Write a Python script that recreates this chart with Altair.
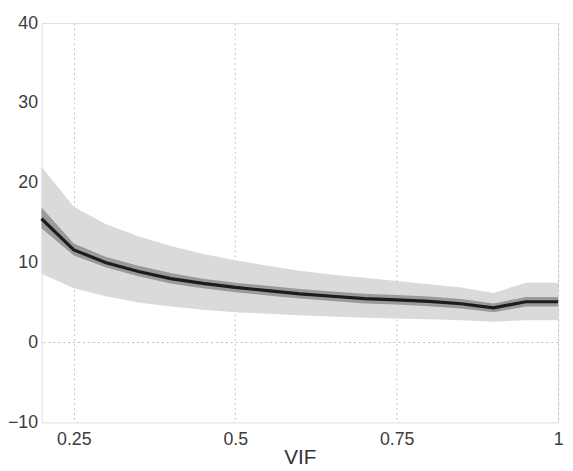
import altair as alt
import pandas as pd

vif = [0.2, 0.25, 0.3, 0.35, 0.4, 0.45, 0.5, 0.55, 0.6, 0.65, 0.7, 0.75, 0.8, 0.85, 0.9, 0.95, 1.0]
mean = [15.5, 11.6, 10.0, 8.9, 8.0, 7.4, 6.9, 6.5, 6.1, 5.8, 5.5, 5.35, 5.15, 4.85, 4.35, 5.1, 5.1]
inner_lo = [14.3, 10.9, 9.4, 8.3, 7.4, 6.8, 6.3, 5.9, 5.5, 5.2, 4.9, 4.75, 4.55, 4.25, 3.8, 4.5, 4.5]
inner_hi = [16.9, 12.4, 10.7, 9.6, 8.7, 8.0, 7.5, 7.1, 6.7, 6.4, 6.1, 5.95, 5.75, 5.45, 4.9, 5.7, 5.7]
outer_lo = [8.6, 6.8, 5.8, 5.0, 4.5, 4.1, 3.8, 3.6, 3.4, 3.25, 3.1, 3.0, 2.9, 2.8, 2.6, 2.8, 2.8]
outer_hi = [22.0, 17.0, 14.8, 13.3, 12.1, 11.1, 10.3, 9.6, 9.0, 8.5, 8.1, 7.7, 7.3, 6.9, 6.2, 7.5, 7.5]

df = pd.DataFrame({"vif": vif, "mean": mean, "ilo": inner_lo, "ihi": inner_hi,
                   "olo": outer_lo, "ohi": outer_hi})

xscale = alt.Scale(domain=[0.2, 1.0], nice=False, zero=False)
yscale = alt.Scale(domain=[-10, 40], nice=False, zero=False)

FONT = "Liberation Sans"

xaxis = alt.Axis(values=[0.25, 0.5, 0.75, 1.0], labelExpr="datum.value == 1 ? '1' : format(datum.value, '')",
                 title="VIF", grid=True, gridColor="#c4c4c4", gridDash=[2, 3], gridWidth=1,
                 labelFontSize=18, titleFontSize=21, titleFontWeight="normal", labelColor="#3c3c3c",
                 titleColor="#333", domain=False, ticks=False, labelPadding=8, titlePadding=-1,
                 labelFont=FONT, titleFont=FONT, labelFlush=False)
yaxis = alt.Axis(values=[-10, 0, 10, 20, 30, 40], title=None, grid=False,
                 labelFontSize=18, labelColor="#3c3c3c", domain=False, ticks=False,
                 labelPadding=4, labelFont=FONT, labelFlush=False)

base = alt.Chart(df)

outer = base.mark_area(color="#dadada", opacity=1).encode(
    x=alt.X("vif:Q", scale=xscale, axis=xaxis),
    y=alt.Y("olo:Q", scale=yscale, axis=yaxis),
    y2="ohi:Q",
)
inner = base.mark_area(color="#9a9a9a", opacity=1).encode(
    x=alt.X("vif:Q", scale=xscale),
    y=alt.Y("ilo:Q", scale=yscale),
    y2="ihi:Q",
)
line = base.mark_line(color="#1c1c1c", strokeWidth=3.2).encode(
    x=alt.X("vif:Q", scale=xscale),
    y=alt.Y("mean:Q", scale=yscale),
)
zero = alt.Chart(pd.DataFrame({"y": [0]})).mark_rule(color="#bdbdbd", strokeDash=[2, 3], strokeWidth=1).encode(
    y=alt.Y("y:Q", scale=yscale)
)

chart = alt.layer(zero, outer, inner, line).properties(
    width=524, height=405,
    autosize=alt.AutoSizeParams(type="none"),
    padding={"left": 34, "top": 12, "right": 7, "bottom": 46},
).configure_view(stroke="#707070", strokeWidth=1.5).configure(background="white")

chart.save("out.html", embed_options={"renderer": "svg", "actions": False})
